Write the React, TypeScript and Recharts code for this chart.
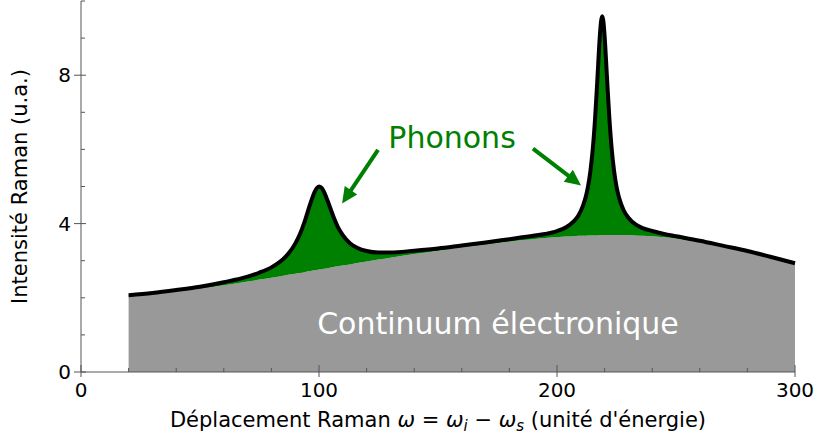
import {
  Area,
  ComposedChart,
  Line,
  ReferenceDot,
  ReferenceLine,
  XAxis,
  YAxis,
} from "recharts";

// Déplacement Raman (abscisse), échantillonnage resserré autour des deux pics
const shifts = [
  20, 30, 40, 50, 60, 70, 75, 80, 84, 87, 90, 92, 94, 96, 97, 98, 99, 100, 101, 102, 103,
  104, 106, 108, 110, 113, 116, 120, 125, 130, 140, 150, 160, 170, 180, 190, 195, 200, 204,
  207, 209, 211, 212, 213, 214, 215, 216, 217, 218, 218.5, 219, 219.5, 220, 221, 222, 223,
  224, 225, 226, 228, 230, 233, 236, 240, 245, 250, 260, 270, 280, 290, 300,
];

// continuum électronique (zone grise)
const continuum = [
  2.05, 2.1, 2.17, 2.25, 2.34, 2.44, 2.49, 2.54, 2.58, 2.62, 2.65, 2.67, 2.69, 2.72, 2.73,
  2.74, 2.75, 2.76, 2.77, 2.78, 2.79, 2.8, 2.83, 2.85, 2.87, 2.9, 2.94, 2.98, 3.03, 3.08,
  3.18, 3.27, 3.36, 3.44, 3.52, 3.58, 3.61, 3.63, 3.65, 3.66, 3.67, 3.67, 3.67, 3.68, 3.68,
  3.68, 3.68, 3.68, 3.69, 3.69, 3.69, 3.69, 3.69, 3.69, 3.69, 3.69, 3.69, 3.69, 3.69, 3.69,
  3.69, 3.68, 3.67, 3.66, 3.63, 3.6, 3.5, 3.38, 3.24, 3.09, 2.92,
];

// intensité totale (continuum + phonons)
const total = [
  2.07, 2.13, 2.21, 2.3, 2.42, 2.57, 2.68, 2.82, 2.99, 3.18, 3.46, 3.72, 4.06, 4.47, 4.66,
  4.83, 4.95, 5.0, 4.97, 4.87, 4.72, 4.55, 4.2, 3.9, 3.69, 3.47, 3.35, 3.26, 3.22, 3.22,
  3.27, 3.33, 3.41, 3.49, 3.58, 3.67, 3.72, 3.8, 3.91, 4.06, 4.22, 4.5, 4.7, 4.99, 5.4,
  5.99, 6.83, 7.93, 9.06, 9.45, 9.59, 9.45, 9.06, 7.94, 6.84, 6.0, 5.41, 5.0, 4.72, 4.36,
  4.16, 3.98, 3.88, 3.8, 3.72, 3.66, 3.54, 3.4, 3.26, 3.1, 2.93,
];

const xTicks = [0, 20, 40, 60, 80, 100, 120, 140, 160, 180, 200, 220, 240, 260, 280, 300];
const yTicks = [0, 1, 2, 3, 4, 5, 6, 7, 8, 9, 10];
const xMajor = [0, 100, 200, 300];
const yMajor = [0, 4, 8];

// flèches "Phonons" (départ -> pointe, en unités des axes)
const arrowLeft = [{ x: 124.8, y: 5.99 }, { x: 109.7, y: 4.54 }];
const arrowRight = [{ x: 189.9, y: 6.02 }, { x: 210.1, y: 5.03 }];

// la zone verte est empilée sur le continuum : elle ne couvre que l'écart
const data = shifts.map((x, i) => ({
  x,
  continuum: continuum[i],
  phonons: Math.max(0, total[i] - continuum[i]),
  total: total[i],
}));

const FONT = "DejaVu Sans";
const GREEN = "#008000";
const SPINE = "#555";

function XTick(props: any) {
  const { x, y, payload } = props;
  const major = xMajor.includes(payload.value);
  return (
    <g>
      <line x1={x} x2={x} y1={y - (major ? 7 : 4)} y2={y + (major ? 5 : 0)} stroke={SPINE} />
      {major && (
        <text x={x} y={y + 25} textAnchor="middle" fontSize={20} fontFamily={FONT} fill="#000">
          {payload.value}
        </text>
      )}
    </g>
  );
}

function YTick(props: any) {
  const { x, y, payload } = props;
  const major = yMajor.includes(payload.value);
  return (
    <g>
      <line x1={x - (major ? 7 : 0)} x2={x + (major ? 5 : 4)} y1={y} y2={y} stroke={SPINE} />
      {major && (
        <text x={x - 10} y={y + 7} textAnchor="end" fontSize={20} fontFamily={FONT} fill="#000">
          {payload.value}
        </text>
      )}
    </g>
  );
}

function XLabel(props: any) {
  const vb = props.viewBox;
  const cx = vb.x + vb.width / 2;
  return (
    <text x={cx} y={vb.y + 55} textAnchor="middle" fontSize={21} fontFamily={FONT} fill="#000">
      <tspan>Déplacement Raman </tspan>
      <tspan fontStyle="italic">ω</tspan>
      <tspan> = </tspan>
      <tspan fontStyle="italic">ω</tspan>
      <tspan fontStyle="italic" fontSize={15} dy={4}>i</tspan>
      <tspan dy={-4}> − </tspan>
      <tspan fontStyle="italic">ω</tspan>
      <tspan fontStyle="italic" fontSize={15} dy={4}>s</tspan>
      <tspan dy={-4}> (unité d'énergie)</tspan>
    </text>
  );
}

function YLabel(props: any) {
  const vb = props.viewBox;
  const cy = vb.y + vb.height / 2;
  return (
    <text
      x={27}
      y={cy}
      transform={`rotate(-90 27 ${cy})`}
      textAnchor="middle"
      fontSize={21}
      fontFamily={FONT}
      fill="#000"
    >
      Intensité Raman (u.a.)
    </text>
  );
}

function Arrow(props: any) {
  const { x1, y1, x2, y2 } = props;
  const dx = x2 - x1;
  const dy = y2 - y1;
  const len = Math.hypot(dx, dy);
  const ux = dx / len;
  const uy = dy / len;
  const head = 16;
  const half = 7.5;
  const bx = x2 - ux * head;
  const by = y2 - uy * head;
  return (
    <g>
      <line x1={x1} y1={y1} x2={bx + ux * 2} y2={by + uy * 2} stroke={GREEN} strokeWidth={4} />
      <polygon
        points={`${x2},${y2} ${bx - uy * half},${by + ux * half} ${bx + uy * half},${by - ux * half}`}
        fill={GREEN}
      />
    </g>
  );
}

function Caption(text: string, color: string) {
  return (props: any) => (
    <text x={props.cx} y={props.cy} textAnchor="middle" fontSize={30} fontFamily={FONT} fill={color}>
      {text}
    </text>
  );
}

export default function App() {
  return (
    <div style={{ position: "absolute", left: 0, top: 0, background: "#fff" }}>
      <ComposedChart
        width={816}
        height={441}
        data={data}
        margin={{ top: 1, right: 21, bottom: 0, left: 0 }}
      >
        <XAxis
          dataKey="x"
          type="number"
          domain={[0, 300]}
          ticks={xTicks}
          interval={0}
          height={69}
          tickSize={0}
          tickMargin={0}
          tickLine={false}
          axisLine={{ stroke: SPINE }}
          tick={<XTick />}
          label={<XLabel />}
        />
        <XAxis
          xAxisId="top"
          orientation="top"
          type="number"
          domain={[0, 300]}
          height={0}
          tick={false}
          tickLine={false}
          axisLine={{ stroke: SPINE }}
        />
        <YAxis
          type="number"
          domain={[0, 10]}
          ticks={yTicks}
          interval={0}
          width={81}
          tickSize={0}
          tickMargin={0}
          tickLine={false}
          axisLine={{ stroke: SPINE }}
          tick={<YTick />}
          label={<YLabel />}
        />
        <YAxis
          yAxisId="right"
          orientation="right"
          type="number"
          domain={[0, 10]}
          width={0}
          tick={false}
          tickLine={false}
          axisLine={{ stroke: SPINE }}
        />
        <Area
          type="monotone"
          dataKey="continuum"
          stackId="s"
          fill="#999999"
          fillOpacity={1}
          stroke="none"
          isAnimationActive={false}
        />
        <Area
          type="monotone"
          dataKey="phonons"
          stackId="s"
          fill={GREEN}
          fillOpacity={1}
          stroke="none"
          isAnimationActive={false}
        />
        <Line
          type="monotone"
          dataKey="total"
          stroke="#000"
          strokeWidth={4}
          strokeLinejoin="round"
          dot={false}
          activeDot={false}
          isAnimationActive={false}
        />
        <ReferenceLine segment={arrowLeft} shape={Arrow} />
        <ReferenceLine segment={arrowRight} shape={Arrow} />
        <ReferenceDot x={155.9} y={6.05} r={0} shape={Caption("Phonons", GREEN)} />
        <ReferenceDot x={175.2} y={1.02} r={0} shape={Caption("Continuum électronique", "#fff")} />
      </ComposedChart>
    </div>
  );
}
